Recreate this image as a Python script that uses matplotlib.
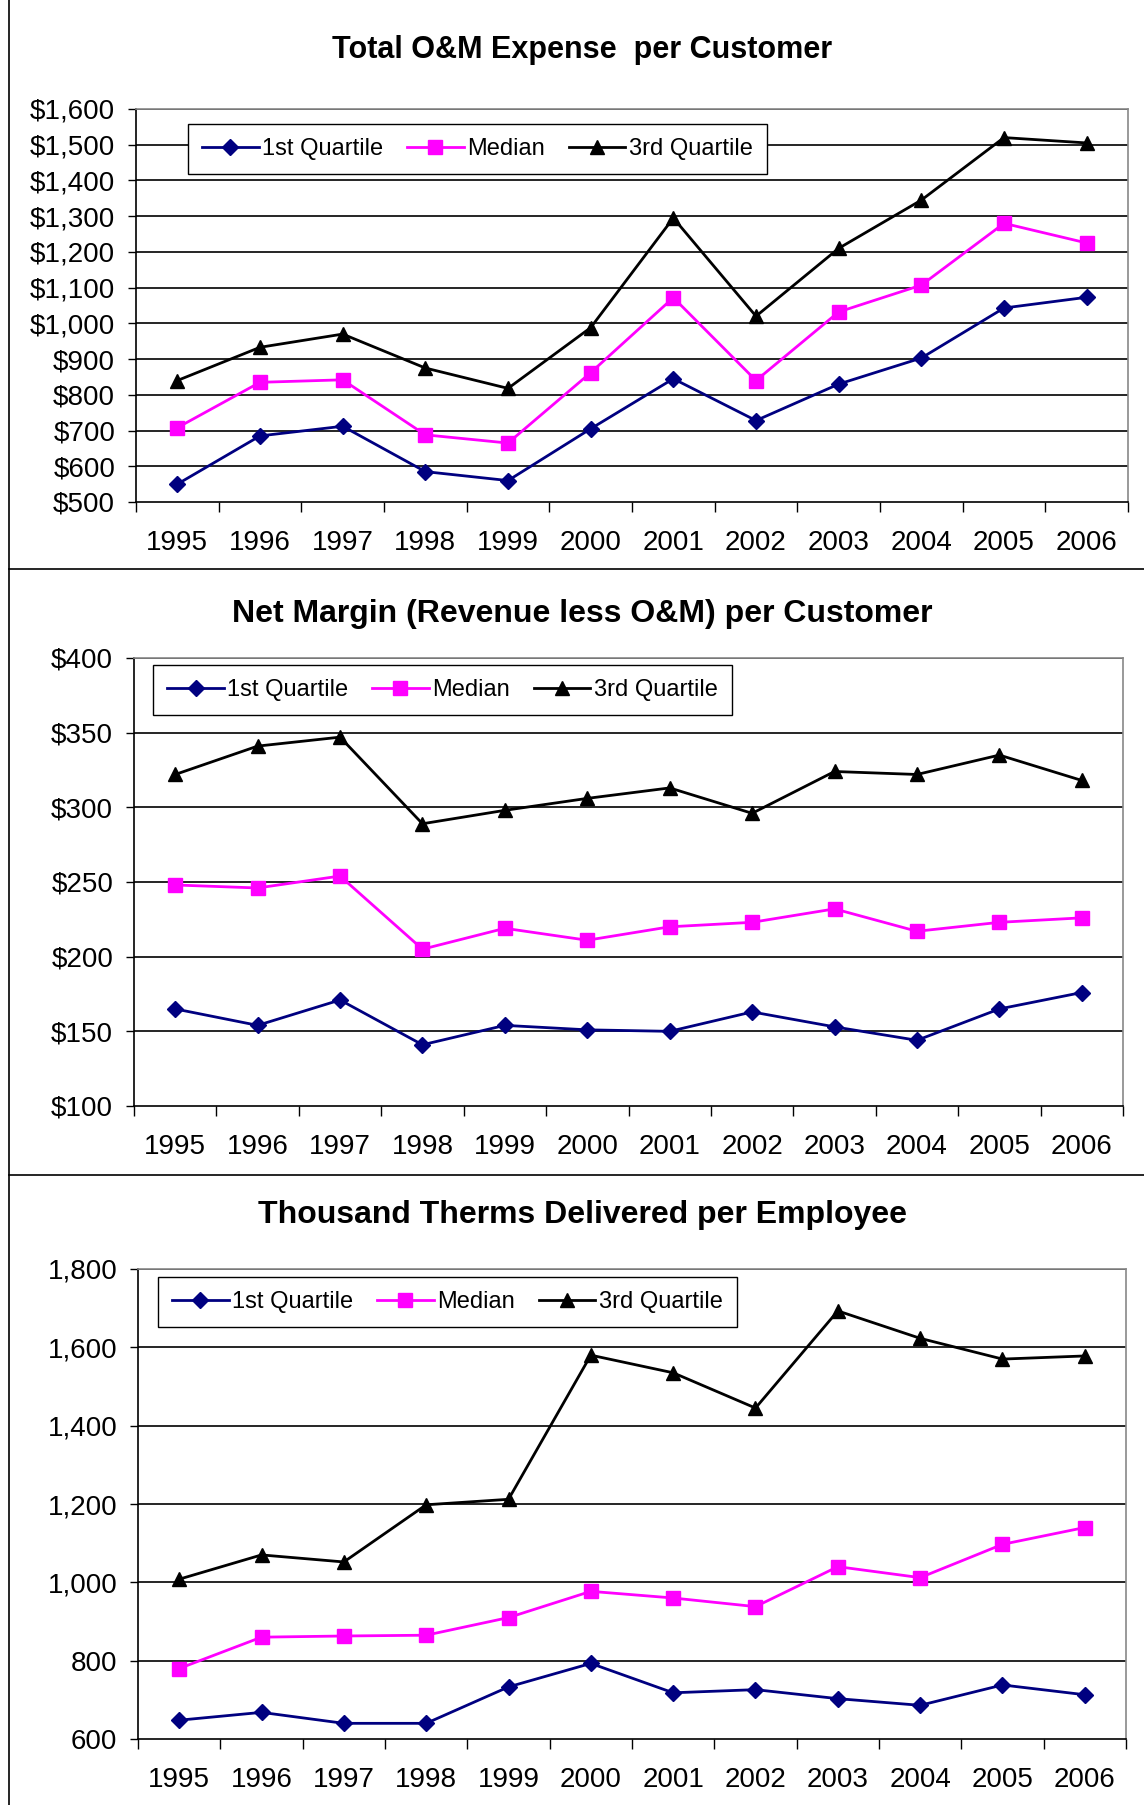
import matplotlib
matplotlib.use("Agg")
import matplotlib.pyplot as plt
from matplotlib.lines import Line2D
from matplotlib.ticker import FuncFormatter, FixedLocator

plt.rcParams["font.family"] = ["Liberation Sans", "DejaVu Sans"]

years = ["1995", "1996", "1997", "1998", "1999", "2000",
         "2001", "2002", "2003", "2004", "2005", "2006"]
series_names = ["1st Quartile", "Median", "3rd Quartile"]

om_q1 = [550, 685, 712, 585, 560, 705, 845, 728, 830, 903, 1043, 1073]
om_med = [708, 835, 842, 688, 665, 862, 1072, 840, 1032, 1107, 1280, 1225]
om_q3 = [840, 933, 970, 875, 818, 988, 1295, 1020, 1210, 1345, 1520, 1505]

nm_q1 = [165, 154, 171, 141, 154, 151, 150, 163, 153, 144, 165, 176]
nm_med = [248, 246, 254, 205, 219, 211, 220, 223, 232, 217, 223, 226]
nm_q3 = [322, 341, 347, 289, 298, 306, 313, 296, 324, 322, 335, 318]

th_q1 = [648, 668, 640, 640, 733, 793, 718, 726, 703, 686, 738, 713]
th_med = [780, 860, 863, 865, 910, 977, 960, 938, 1040, 1012, 1097, 1140]
th_q3 = [1008, 1070, 1052, 1198, 1212, 1580, 1535, 1445, 1693, 1623, 1570, 1578]

W, H = 1144, 1805
fig = plt.figure(figsize=(W / 100, H / 100), dpi=100)
fig.patch.set_facecolor("white")

NAVY = "#000080"
MAG = "#FF00FF"
BLK = "#000000"
styles = [(NAVY, "D", 8), (MAG, "s", 9.5), (BLK, "^", 9.5)]


def px_axes(l, r, t, b):
    return fig.add_axes([l / W, 1 - b / H, (r - l) / W, (b - t) / H])


def panel(rect, title, title_y, title_fs, data, ylim, ystep, fmt, leg_pos):
    ax = px_axes(*rect)
    x = list(range(len(years)))
    for (col, mk, ms), vals, name in zip(styles, data, series_names):
        ax.plot(x, vals, color=col, lw=2.0, marker=mk, ms=ms,
                markeredgecolor=col, label=name, zorder=3, clip_on=False)
    ax.set_xlim(-0.5, len(years) - 0.5)
    ax.set_ylim(*ylim)
    yt = list(range(ylim[0], ylim[1] + 1, ystep))
    ax.yaxis.set_major_locator(FixedLocator(yt))
    ax.yaxis.set_major_formatter(FuncFormatter(fmt))
    for v in yt[1:]:
        ax.axhline(v, color="#000000", lw=1.2, zorder=1)
    ax.set_xticks(x)
    ax.set_xticklabels(years)
    ax.tick_params(axis="x", length=0, pad=20, labelsize=20)
    ax.set_xticks([i - 0.5 for i in range(len(years) + 1)], minor=True)
    ax.tick_params(axis="x", which="minor", length=7, width=1.0, direction="out")
    ax.tick_params(axis="y", length=6, width=1.0, direction="out", labelsize=20, pad=9)
    for s in ["left", "bottom"]:
        ax.spines[s].set_color("black")
        ax.spines[s].set_linewidth(1.2)
    for s in ["top", "right"]:
        ax.spines[s].set_color("#888888")
        ax.spines[s].set_linewidth(1.2)
    fig.text(582 / W, 1 - title_y / H, title,
             ha="center", va="center", fontsize=title_fs, fontweight="bold")
    lx, ly = leg_pos
    leg = ax.legend(loc="upper left", bbox_to_anchor=(lx / W, 1 - ly / H),
                    bbox_transform=fig.transFigure, borderaxespad=0, ncol=3,
                    fontsize=17, frameon=True, fancybox=False, shadow=False,
                    framealpha=1, edgecolor="black", handlelength=2.4,
                    handletextpad=0.15, columnspacing=1.0, borderpad=0.6)
    leg.get_frame().set_linewidth(1.0)
    return ax


dollar = lambda v, p: "${:,.0f}".format(v)
plain = lambda v, p: "{:,.0f}".format(v)

panel((136, 1128, 109, 502), "Total O&M Expense  per Customer", 50, 22,
      [om_q1, om_med, om_q3], (500, 1600), 100, dollar, (188, 124))
panel((134, 1123, 658, 1106), "Net Margin (Revenue less O&M) per Customer", 614, 23,
      [nm_q1, nm_med, nm_q3], (100, 400), 50, dollar, (153, 665))
panel((138, 1126, 1269, 1739), "Thousand Therms Delivered per Employee", 1215, 23,
      [th_q1, th_med, th_q3], (600, 1800), 200, plain, (158, 1277))

# outer frame lines
fig.add_artist(Line2D([9 / W, 9 / W], [0, 1], color="black", lw=1.2))
for yy in (569, 1175):
    fig.add_artist(Line2D([9 / W, 1], [1 - yy / H, 1 - yy / H], color="black", lw=1.2))

fig.savefig("out.png", dpi=100)
